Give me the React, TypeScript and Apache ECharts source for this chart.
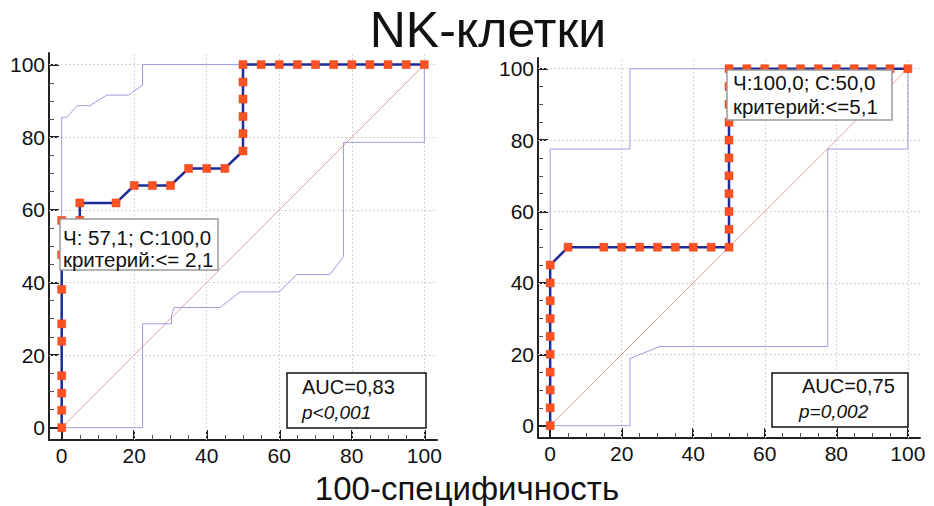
import React, { useEffect, useRef } from "react";
import * as echarts from "echarts";

// ---------- data ----------
const majorTicks = [0, 20, 40, 60, 80, 100];
const minorTicks = [5, 10, 15, 25, 30, 35, 45, 50, 55, 65, 70, 75, 85, 90, 95];
const gridValues = [20, 40, 60, 80, 100];
const diagonal: [number, number][] = [[0, 0], [100, 100]];

// Left panel
const leftRocLine: [number, number][] = [
  [0, 0], [0, 57.1], [5, 57.1], [5, 61.9], [15, 61.9], [20, 66.7], [30, 66.7],
  [35, 71.4], [45, 71.4], [50, 76.2], [50, 100], [100, 100],
];
const leftRocMarkers: [number, number][] = [
  [0, 0], [0, 4.8], [0, 9.5], [0, 14.3], [0, 23.8], [0, 28.6], [0, 38.1], [0, 47.6], [0, 57.1],
  [5, 57.1], [5, 61.9], [15, 61.9], [20, 66.7], [25, 66.7], [30, 66.7],
  [35, 71.4], [40, 71.4], [45, 71.4],
  [50, 76.2], [50, 81.0], [50, 85.7], [50, 90.5], [50, 95.2], [50, 100],
  [55, 100], [60, 100], [65, 100], [70, 100], [75, 100], [80, 100], [85, 100], [90, 100], [95, 100], [100, 100],
];
const leftUpperCI: [number, number][] = [
  [0, 0], [0, 85.5], [1.4, 85.5], [4.3, 88.7], [7.8, 88.7], [12.4, 91.6], [18.4, 91.6],
  [22.3, 94.4], [22.3, 100], [100, 100],
];
const leftLowerCI: [number, number][] = [
  [0, 0], [22.3, 0], [22.3, 28.6], [30.3, 28.6], [30.3, 31], [31, 33.1], [43.7, 33.1],
  [49.2, 37.4], [60, 37.4], [64.8, 42.2], [74, 42.2], [77.7, 47.1], [77.7, 78.6],
  [100, 78.6], [100, 100],
];

// Right panel
const rightRocLine: [number, number][] = [
  [0, 0], [0, 45], [5, 50], [50, 50], [50, 100], [100, 100],
];
const rightRocMarkers: [number, number][] = [
  [0, 0], [0, 5], [0, 10], [0, 15], [0, 20], [0, 25], [0, 30], [0, 35], [0, 40], [0, 45],
  [5, 50], [15, 50], [20, 50], [25, 50], [30, 50], [35, 50], [40, 50], [45, 50], [50, 50],
  [50, 55], [50, 60], [50, 65], [50, 70], [50, 75], [50, 80], [50, 85], [50, 90], [50, 95], [50, 100],
  [55, 100], [60, 100], [65, 100], [70, 100], [75, 100], [80, 100], [85, 100], [90, 100], [95, 100], [100, 100],
];
const rightUpperCI: [number, number][] = [
  [0, 0], [0, 77.5], [22.3, 77.5], [22.3, 100], [100, 100],
];
const rightLowerCI: [number, number][] = [
  [0, 0], [22.3, 0], [22.3, 18.8], [30.7, 22.2], [77.6, 22.2], [77.6, 77.5], [100, 77.5], [100, 100],
];

// Texts
const titleText = "NK-клетки";
const xTitleText = "100-специфичность";
const leftCutoff = ["Ч: 57,1; С:100,0", "критерий:<= 2,1"];
const rightCutoff = ["Ч:100,0; С:50,0", "критерий:<=5,1"];
const leftAuc = ["AUC=0,83", "p<0,001"];
const rightAuc = ["AUC=0,75", "p=0,002"];

const FONT = "'Liberation Sans', Arial, sans-serif";

const DIAG_COLOR = "#e2a3a3";
const CI_COLOR = "#9c9ce0";
const ROC_COLOR = "#1d2b98";
const MARKER_COLOR = "#ff5222";

function makeAxes(gridIndex: number, min: number, max: number, isX: boolean) {
  const common = {
    type: "value",
    gridIndex,
    min,
    max,
    position: isX ? "bottom" : "left",
    splitLine: { show: false },
  };
  const major = {
    ...common,
    axisLine: { show: true, onZero: false, lineStyle: { color: "#222", width: 2 } },
    axisTick: {
      show: true,
      inside: true,
      length: 10,
      customValues: majorTicks,
      lineStyle: { color: "#222", width: 2 },
    },
    axisLabel: {
      show: true,
      customValues: majorTicks,
      margin: isX ? 5 : 4,
      color: "#111",
      fontSize: isX ? 21 : 21,
      fontFamily: FONT,
    },
  };
  const minor = {
    ...common,
    axisLine: { show: false, onZero: false },
    axisTick: {
      show: true,
      inside: true,
      length: 5,
      customValues: minorTicks,
      lineStyle: { color: "#555", width: 1 },
    },
    axisLabel: { show: false },
  };
  return [major, minor];
}

function panelSeries(xIdx: number, yIdx: number, upper: any, lower: any, line: any, markers: any) {
  const ci = { color: CI_COLOR, width: 1 };
  return [
    {
      type: "line",
      xAxisIndex: xIdx,
      yAxisIndex: yIdx,
      data: diagonal,
      showSymbol: false,
      color: DIAG_COLOR,
      itemStyle: { color: DIAG_COLOR },
      lineStyle: { color: DIAG_COLOR, width: 1 },
      z: 2,
      markLine: {
        silent: true,
        symbol: ["none", "none"],
        label: { show: false },
        lineStyle: { color: "#d4d4d4", width: 1, type: [2, 2] },
        data: [
          ...gridValues.map((v) => ({ xAxis: v })),
          ...gridValues.map((v) => ({ yAxis: v })),
        ],
        z: 1,
      },
    },
    { type: "line", xAxisIndex: xIdx, yAxisIndex: yIdx, data: upper, showSymbol: false, color: CI_COLOR, lineStyle: ci, z: 3 },
    { type: "line", xAxisIndex: xIdx, yAxisIndex: yIdx, data: lower, showSymbol: false, color: CI_COLOR, lineStyle: ci, z: 3 },
    {
      type: "line",
      xAxisIndex: xIdx,
      yAxisIndex: yIdx,
      data: line,
      showSymbol: false,
      color: ROC_COLOR,
      lineStyle: { color: ROC_COLOR, width: 2.5 },
      z: 4,
    },
    {
      type: "scatter",
      xAxisIndex: xIdx,
      yAxisIndex: yIdx,
      data: markers,
      symbol: "rect",
      symbolSize: 8,
      color: MARKER_COLOR,
      itemStyle: { color: MARKER_COLOR, borderColor: "#e03c12", borderWidth: 0.5, opacity: 1 },
      z: 5,
    },
  ];
}

function textBox(x: number, y: number, w: number, h: number, stroke: string, lw: number) {
  return {
    type: "rect",
    z: 100,
    shape: { x, y, width: w, height: h },
    style: { fill: "#fff", stroke, lineWidth: lw },
  };
}

function txt(text: string, x: number, y: number, size: number, opts: any = {}) {
  return {
    type: "text",
    z: 101,
    x,
    y,
    style: {
      text,
      fontSize: size,
      fontFamily: FONT,
      fontStyle: opts.italic ? "italic" : "normal",
      fill: "#111",
      align: opts.align || "left",
      verticalAlign: "middle",
    },
  };
}

export default function App() {
  const ref = useRef<HTMLDivElement>(null);
  useEffect(() => {
    document.body.style.margin = "0";
    if (!ref.current) return;
    const chart = echarts.init(ref.current, null, { renderer: "svg" });
    const [lxMaj, lxMin] = makeAxes(0, -3.5, 103.5, true);
    const [lyMaj, lyMin] = makeAxes(0, -3.4, 103.2, false);
    const [rxMaj, rxMin] = makeAxes(1, -3.4, 103.4, true);
    const [ryMaj, ryMin] = makeAxes(1, -3.45, 103, false);
    chart.setOption({
      animation: false,
      backgroundColor: "#fff",
      grid: [
        { left: 49, top: 53, width: 388, height: 387 },
        { left: 538, top: 58, width: 382, height: 380 },
      ],
      xAxis: [lxMaj, lxMin, rxMaj, rxMin],
      yAxis: [lyMaj, lyMin, ryMaj, ryMin],
      series: [
        ...panelSeries(0, 0, leftUpperCI, leftLowerCI, leftRocLine, leftRocMarkers),
        ...panelSeries(2, 2, rightUpperCI, rightLowerCI, rightRocLine, rightRocMarkers),
      ],
      graphic: [
        txt(titleText, 488, 30, 50, { align: "center" }),
        txt(xTitleText, 467, 488, 33, { align: "center" }),
        textBox(60, 219, 158, 51, "#9a9a9a", 1.5),
        txt(leftCutoff[0], 63, 237, 20.5),
        txt(leftCutoff[1], 63, 259, 20.5),
        textBox(727, 70, 165, 50, "#9a9a9a", 1.5),
        txt(rightCutoff[0], 733, 82, 20.5),
        txt(rightCutoff[1], 733, 106, 20.5),
        textBox(287, 373, 139, 55, "#111", 1.5),
        txt(leftAuc[0], 302, 387, 20),
        txt(leftAuc[1], 302, 412, 19, { italic: true }),
        textBox(772, 373, 136, 54, "#111", 1.5),
        txt(rightAuc[0], 802, 386, 20),
        txt(rightAuc[1], 799, 411, 19, { italic: true }),
      ],
    });
    return () => chart.dispose();
  }, []);
  return <div ref={ref} style={{ width: 934, height: 506 }} />;
}
